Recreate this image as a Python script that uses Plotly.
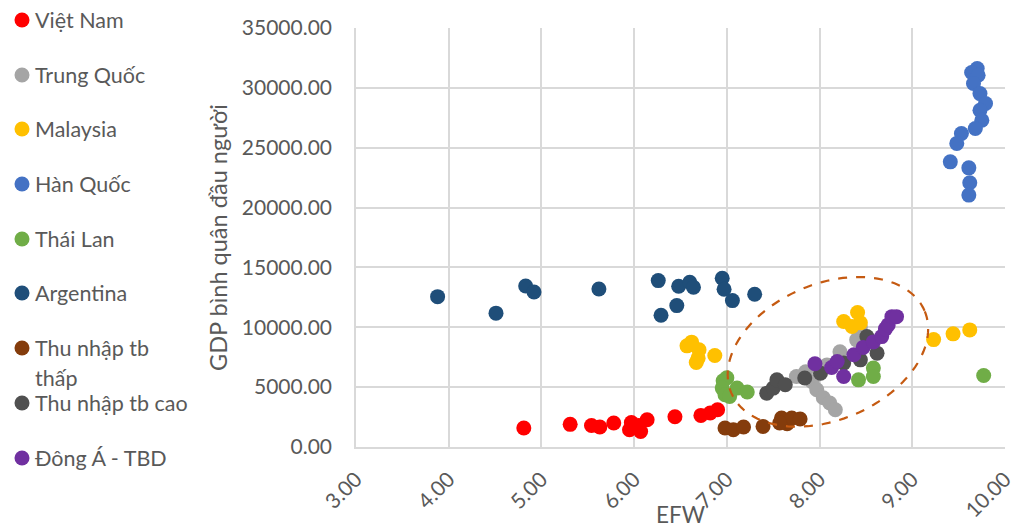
import numpy as np
import plotly.graph_objects as go

# ---- data: EFW index (x) vs GDP per capita (y) ----
series_names = ["Việt Nam", "Trung Quốc", "Malaysia", "Hàn Quốc", "Thái Lan",
                "Argentina", "Thu nhập tb thấp", "Thu nhập tb cao", "Đông Á - TBD"]
series_colors = ["#FF0000", "#A5A5A5", "#FFC000", "#4472C4", "#70AD47",
                 "#1F4E79", "#843C0C", "#505050", "#7030A0"]

vn_efw = [4.81, 5.31, 5.54, 5.63, 5.78, 5.97, 5.95, 6.07, 6.05, 6.14, 6.44, 6.72, 6.82, 6.90]
vn_gdp = [1590, 1890, 1800, 1670, 2000, 2050, 1440, 1300, 1800, 2280, 2530, 2640, 2840, 3110]

cn_efw = [7.75, 7.85, 7.92, 7.97, 8.04, 8.11, 8.17, 8.08, 8.22, 8.40, 8.44]
cn_gdp = [5890, 6280, 5450, 4780, 4110, 3670, 3110, 6860, 7950, 8950, 10030]

my_efw = [6.57, 6.62, 6.70, 6.69, 6.67, 6.87, 8.26, 8.41, 8.35, 8.44, 9.23, 9.44, 9.62]
my_gdp = [8450, 8760, 8120, 7420, 7060, 7640, 10480, 11230, 10060, 10370, 8970, 9450, 9780]

kr_efw = [9.70, 9.64, 9.71, 9.66, 9.73, 9.79, 9.73, 9.75, 9.68, 9.53, 9.48, 9.41, 9.61, 9.62, 9.61]
kr_gdp = [31610, 31280, 31050, 30360, 29520, 28690, 28130, 27300, 26610, 26190, 25360, 23820, 23320, 22070, 21040]

th_efw = [6.96, 7.00, 6.95, 6.98, 7.03, 7.11, 7.22, 8.42, 8.58, 8.58, 9.77]
th_gdp = [5530, 5780, 4920, 4360, 4220, 4920, 4590, 5610, 6590, 5890, 5970]

ar_efw = [3.88, 4.51, 4.83, 4.92, 5.62, 6.26, 6.48, 6.60, 6.64, 6.46, 6.29, 6.95, 6.97, 7.06, 7.30]
ar_gdp = [12560, 11180, 13450, 12950, 13200, 13900, 13430, 13760, 13350, 11810, 11010, 14100, 13180, 12230, 12760]

lmi_efw = [6.98, 7.07, 7.18, 7.39, 7.59, 7.65, 7.70, 7.79, 7.57]
lmi_gdp = [1590, 1440, 1670, 1720, 2420, 1940, 2420, 2340, 2000]

umi_efw = [7.43, 7.50, 7.54, 7.63, 7.84, 8.01, 8.26, 8.44, 8.51, 8.62]
umi_gdp = [4500, 4920, 5610, 5200, 5760, 6170, 7010, 7280, 9220, 7840]

eap_efw = [7.95, 8.13, 8.19, 8.26, 8.37, 8.47, 8.58, 8.67, 8.71, 8.74, 8.78, 8.83]
eap_gdp = [6950, 6640, 7140, 5890, 7700, 8320, 8780, 9220, 9870, 10200, 10890, 10890]

series_x = [vn_efw, cn_efw, my_efw, kr_efw, th_efw, ar_efw, lmi_efw, umi_efw, eap_efw]
series_y = [vn_gdp, cn_gdp, my_gdp, kr_gdp, th_gdp, ar_gdp, lmi_gdp, umi_gdp, eap_gdp]

x_ticks = [3, 4, 5, 6, 7, 8, 9, 10]
y_ticks = [0, 5000, 10000, 15000, 20000, 25000, 30000, 35000]

# ---- layout geometry ----
W, H = 1011, 526
ML, MR, MT, MB = 356, 6, 28, 79
PW, PH = W - ML - MR, H - MT - MB
X_RANGE = [3, 10]
Y_RANGE = [0, 35000]
FONT = "Lato"
TXT = "#595959"


def px_to_paper(px, py):
    return (px - ML) / PW, (H - MB - py) / PH


fig = go.Figure()
for name, color, xs, ys in zip(series_names, series_colors, series_x, series_y):
    fig.add_trace(go.Scatter(
        x=xs, y=ys, mode="markers", name=name, showlegend=False,
        marker=dict(size=15, color=color, line=dict(width=0)),
    ))

# dashed ellipse highlighting the high-income cluster
ex_c, ey_c = 8.09, 7950          # centre in data units
a_px, b_px, tilt = 105, 68, np.radians(23)  # semi-axes (px) and tilt
ux = PW / (X_RANGE[1] - X_RANGE[0])
uy = PH / (Y_RANGE[1] - Y_RANGE[0])
t = np.linspace(0, 2 * np.pi, 121)
dx = a_px * np.cos(t) * np.cos(tilt) - b_px * np.sin(t) * np.sin(tilt)
dy = a_px * np.cos(t) * np.sin(tilt) + b_px * np.sin(t) * np.cos(tilt)
ex = ex_c + dx / ux
ey = ey_c + dy / uy
path = "M " + " L ".join(f"{x:.4f},{y:.2f}" for x, y in zip(ex, ey)) + " Z"
fig.add_shape(type="path", path=path, xref="x", yref="y",
              line=dict(color="#C55A11", width=2.2, dash="dash"))

# hand-placed legend on the left side
legend_rows = [20, 75, 129, 184, 239, 293, 348, 403, 458]
annotations = []
for name, color, row in zip(series_names, series_colors, legend_rows):
    ax, ay = px_to_paper(22, row)
    fig.add_shape(type="circle", xref="paper", yref="paper",
                  xsizemode="pixel", ysizemode="pixel",
                  xanchor=ax, yanchor=ay, x0=-7.5, x1=7.5, y0=-7.5, y1=7.5,
                  fillcolor=color, line=dict(width=0))
    lines = ["Thu nhập tb", "thấp"] if name == "Thu nhập tb thấp" else [name]
    for i, line in enumerate(lines):
        tx, ty = px_to_paper(33, row + 30 * i)
        annotations.append(dict(
            x=tx, y=ty, xref="paper", yref="paper", text=line, showarrow=False,
            xanchor="left", yanchor="middle",
            font=dict(family=FONT, size=21.5, color=TXT),
        ))

# axis titles
tx, ty = px_to_paper(218, 238)
annotations.append(dict(x=tx, y=ty, xref="paper", yref="paper",
                        text="GDP bình quân đầu người", textangle=-90,
                        showarrow=False, xanchor="center", yanchor="middle",
                        font=dict(family=FONT, size=23.5, color=TXT)))
tx, ty = px_to_paper(680, 499)
annotations.append(dict(x=tx, y=ty, xref="paper", yref="paper", text="EFW",
                        showarrow=False, xanchor="center", yanchor="top",
                        font=dict(family=FONT, size=22.5, color=TXT)))

axis_common = dict(
    showgrid=True, gridcolor="#D9D9D9", gridwidth=1.5,
    showline=True, linecolor="#D9D9D9", linewidth=1.5,
    zeroline=False, ticks="", tickformat=".2f",
    tickfont=dict(family=FONT, size=21, color=TXT),
    ticklabeloverflow="allow", automargin=False,
)
fig.update_xaxes(range=X_RANGE, tickvals=x_ticks, tickangle=-45,
                 ticklabelstandoff=10, **axis_common)
fig.update_yaxes(range=Y_RANGE, tickvals=y_ticks, ticklabelstandoff=18, **axis_common)

fig.update_layout(
    width=W, height=H,
    margin=dict(l=ML, r=MR, t=MT, b=MB, autoexpand=False),
    paper_bgcolor="white", plot_bgcolor="white",
    showlegend=False,
    annotations=annotations,
    font=dict(family=FONT, color=TXT),
)

fig.write_html("out.html")
